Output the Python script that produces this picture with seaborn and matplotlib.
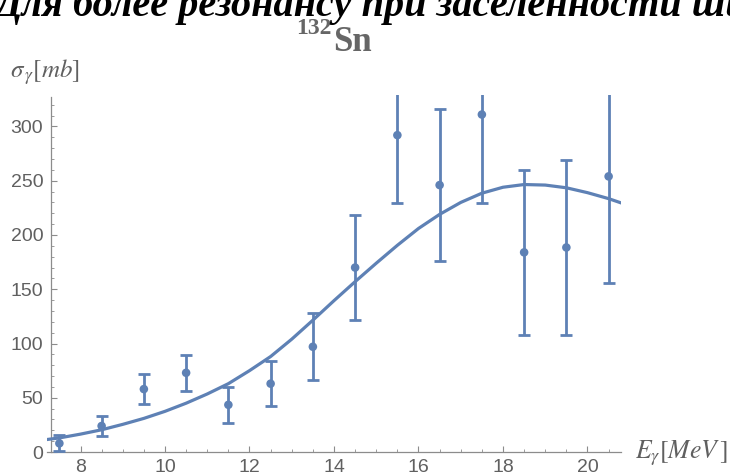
import numpy as np
import pandas as pd
import seaborn as sns
import matplotlib.pyplot as plt

# ---- data ----
energy = [7.5, 8.5, 9.5, 10.5, 11.5, 12.5, 13.5, 14.5, 15.5, 16.5, 17.5, 18.5, 19.5, 20.5]
sigma = [8, 24, 58, 73, 43.5, 63, 97, 170, 292, 246, 311, 184, 188.5, 254]
sigma_err = [7.5, 9, 13.5, 16.5, 16.5, 21, 31, 48, 62.5, 70, 81.5, 76, 81, 98.5]

fit_energy = [7.2, 7.5, 8.0, 8.5, 9.0, 9.5, 10.0, 10.5, 11.0, 11.5, 12.0, 12.5, 13.0, 13.5,
              14.0, 14.5, 15.0, 15.5, 16.0, 16.5, 17.0, 17.5, 18.0, 18.5, 19.0, 19.5, 20.0,
              20.5, 20.8]
fit_sigma = [11.5, 13, 16.5, 20.5, 25.5, 31, 37.5, 45, 53.5, 63, 75, 88, 104, 121.5,
             139.5, 157, 174, 190.5, 206, 219, 230, 238.5, 244, 246.5, 246, 243.5, 239,
             233.5, 229.5]

x_ticks = [8, 10, 12, 14, 16, 18, 20]
y_ticks = [0, 50, 100, 150, 200, 250, 300]

title_top = "Для более резонансу при заселенности шири"
title_iso = "Sn"
title_mass = "132"

# ---- style ----
sns.set_theme(style="white")
plt.rcParams['font.family'] = ['Liberation Sans', 'DejaVu Sans']
plt.rcParams['mathtext.fontset'] = 'stix'

blue = '#5E81B5'
axis_gray = '#8c8c8c'
text_gray = '#606060'

fig = plt.figure(figsize=(7.3, 4.72), dpi=100)
W, H = 730, 472
ax = fig.add_axes([46.7 / W, 1 - 454.2 / H, (621.3 - 46.7) / W, (454.2 - 95.0) / H])

pts = pd.DataFrame({'E': energy, 's': sigma, 'err': sigma_err})
fit = pd.DataFrame({'E': fit_energy, 's': fit_sigma})

sns.lineplot(data=fit, x='E', y='s', ax=ax, color=blue, linewidth=2.3, sort=False, zorder=3)
ax.errorbar(pts['E'], pts['s'], yerr=pts['err'], fmt='none', ecolor=blue,
            elinewidth=2.0, capsize=4.5, capthick=2.0, zorder=4)
sns.scatterplot(data=pts, x='E', y='s', ax=ax, color=blue, s=38, edgecolor='none', zorder=5)

ax.set_xlim(7.2, 20.8)
ax.set_ylim(-2, 329)
ax.set_xlabel('')
ax.set_ylabel('')

for s in ['top', 'right']:
    ax.spines[s].set_visible(False)
ax.spines['left'].set_position(('data', 7.3))
ax.spines['bottom'].set_position(('data', 0))
for s in ['left', 'bottom']:
    ax.spines[s].set_color(axis_gray)
    ax.spines[s].set_linewidth(0.9)
ax.spines['left'].set_bounds(0, 327)

ax.set_xticks(x_ticks)
ax.set_yticks(y_ticks)
ax.set_xticks(np.arange(7.5, 21.0, 0.5), minor=True)
ax.set_yticks(np.arange(0, 330, 10), minor=True)
ax.tick_params(which='major', direction='in', length=4, width=0.8, color=axis_gray,
               labelcolor=text_gray, labelsize=14)
ax.tick_params(which='minor', direction='in', length=2.2, width=0.6, color=axis_gray)
ax.tick_params(axis='x', which='major', pad=5)
ax.tick_params(axis='y', which='major', pad=5.5)
ax.tick_params(axis='both', which='both', left=True, bottom=True)

# axis labels
fig.text(10 / W, 1 - 78 / H, r'$\sigma_{\,\gamma}[mb]$', fontsize=18, color=text_gray,
         ha='left', va='baseline')
fig.text(635 / W, 1 - 458 / H, r'$E_{\gamma}[MeV\,]$', fontsize=18.5, color=text_gray,
         ha='left', va='baseline')

# titles
fig.text(333 / W, 1 - 51 / H, title_iso, fontsize=25, family='Liberation Serif',
         weight='bold', color='#666666', ha='left', va='baseline')
fig.text(332 / W, 1 - 34 / H, title_mass, fontsize=17, family='Liberation Serif',
         weight='bold', color='#666666', ha='right', va='baseline')
fig.text(-6 / W, 1 - 16 / H, title_top, fontsize=29, family='Liberation Serif',
         weight='bold', style='italic', color='black', ha='left', va='baseline')

fig.savefig('out.png', dpi=100)
